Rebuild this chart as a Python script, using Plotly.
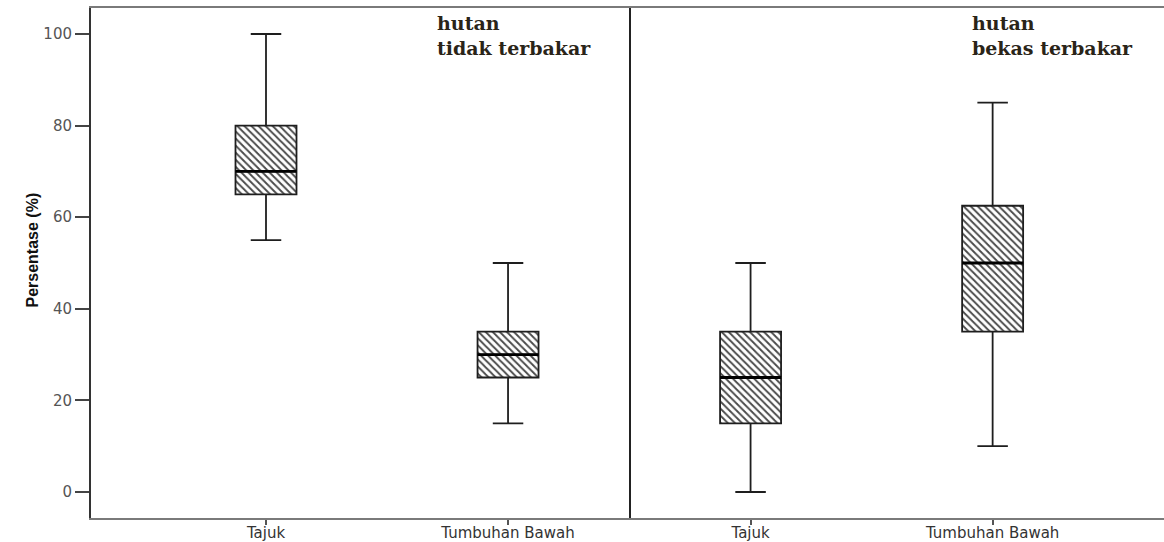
import plotly.graph_objects as go
from plotly.subplots import make_subplots

# Categories on each panel's x axis
categories = ["Tajuk", "Tumbuhan Bawah"]
cat_pos = [0, 1]

# Panel labels
panel_labels = ["hutan<br>tidak terbakar", "hutan<br>bekas terbakar"]

# Five-number summaries, forest not burned  [Tajuk, Tumbuhan Bawah]
low_tidak = [55, 15]
q1_tidak = [65, 25]
med_tidak = [70, 30]
q3_tidak = [80, 35]
high_tidak = [100, 50]

# Five-number summaries, burned forest  [Tajuk, Tumbuhan Bawah]
low_bekas = [0, 10]
q1_bekas = [15, 35]
med_bekas = [25, 50]
q3_bekas = [35, 62.5]
high_bekas = [50, 85]

y_ticks = [0, 20, 40, 60, 80, 100]

BOX_W = 0.252
INK = "#1e1e1e"

fig = make_subplots(rows=1, cols=2, shared_yaxes=True, horizontal_spacing=0)

panels = [
    (low_tidak, q1_tidak, med_tidak, q3_tidak, high_tidak),
    (low_bekas, q1_bekas, med_bekas, q3_bekas, high_bekas),
]

for col, (lo, q1, med, q3, hi) in enumerate(panels, start=1):
    # hatched interquartile fill
    fig.add_trace(
        go.Bar(
            x=cat_pos,
            base=q1,
            y=[b - a for a, b in zip(q1, q3)],
            width=BOX_W,
            marker=dict(
                color="white",
                line=dict(width=0),
                pattern=dict(shape="\\", fgcolor="#4a4a4a", bgcolor="white",
                             size=5, solidity=0.38, fillmode="replace"),
            ),
            showlegend=False,
            hoverinfo="skip",
        ),
        row=1, col=col,
    )
    # box outline and whiskers
    fig.add_trace(
        go.Box(
            x=cat_pos,
            q1=q1, median=med, q3=q3,
            lowerfence=lo, upperfence=hi,
            width=BOX_W,
            whiskerwidth=0.5,
            fillcolor="rgba(0,0,0,0)",
            line=dict(color=INK, width=1.8),
            showlegend=False,
            boxpoints=False,
        ),
        row=1, col=col,
    )
    # heavier median bar
    fig.add_trace(
        go.Box(
            x=cat_pos,
            q1=med, median=med, q3=med,
            lowerfence=med, upperfence=med,
            width=BOX_W,
            whiskerwidth=0,
            fillcolor="rgba(0,0,0,0)",
            line=dict(color="#000000", width=2.8),
            showlegend=False,
            boxpoints=False,
        ),
        row=1, col=col,
    )

split = 540 / 1073
tick_font = dict(family="DejaVu Sans, Arial, sans-serif", size=15, color="#555555")
xtick_font = dict(family="DejaVu Sans, Arial, sans-serif", size=15, color="#333333")

xaxis_common = dict(
    tickvals=cat_pos, ticktext=categories,
    ticks="outside", ticklen=5, tickwidth=1.5, tickcolor="#555555",
    tickfont=xtick_font, ticklabelstandoff=-5,
    showline=True, linecolor="#7a7a7a", linewidth=2, mirror=True,
    showgrid=False, zeroline=False, automargin=False,
)

fig.update_layout(
    width=1164, height=542,
    margin=dict(l=91, r=0, t=8, b=24),
    paper_bgcolor="white",
    plot_bgcolor="white",
    barmode="overlay",
    boxmode="overlay",
    xaxis=dict(domain=[0, split], range=[-0.723, 1.508], **xaxis_common),
    xaxis2=dict(domain=[split, 1], range=[-0.494, 1.708], **xaxis_common),
    yaxis=dict(
        range=[-5.68, 105.68],
        tickvals=y_ticks,
        ticks="outside", ticklen=14, tickwidth=1.5, tickcolor="#444444",
        tickfont=tick_font,
        showline=True, linecolor="#333333", linewidth=2,
        showgrid=False, zeroline=False, automargin=False,
    ),
    yaxis2=dict(
        range=[-5.68, 105.68],
        showticklabels=False, ticks="",
        showline=True, linecolor="#222222", linewidth=2,
        showgrid=False, zeroline=False,
    ),
)

# y axis title
fig.add_annotation(
    text="<b>Persentase (%)</b>",
    xref="paper", yref="paper",
    x=-0.0643, y=0.5255, textangle=-90,
    showarrow=False,
    font=dict(family="Liberation Sans Narrow, Arial Narrow, Liberation Sans, sans-serif",
              size=16, color="#111111"),
)

# panel labels
label_font = dict(family="DejaVu Serif, Liberation Serif, serif", size=19, color="#2a2418")
for x_paper, txt in zip([0.3206, 0.8192], panel_labels):
    fig.add_annotation(
        text="<b>" + txt + "</b>",
        xref="paper", yref="paper",
        x=x_paper, y=0.996, xanchor="left", yanchor="top",
        align="left", showarrow=False,
        font=label_font,
    )

fig.write_html("out.html")
